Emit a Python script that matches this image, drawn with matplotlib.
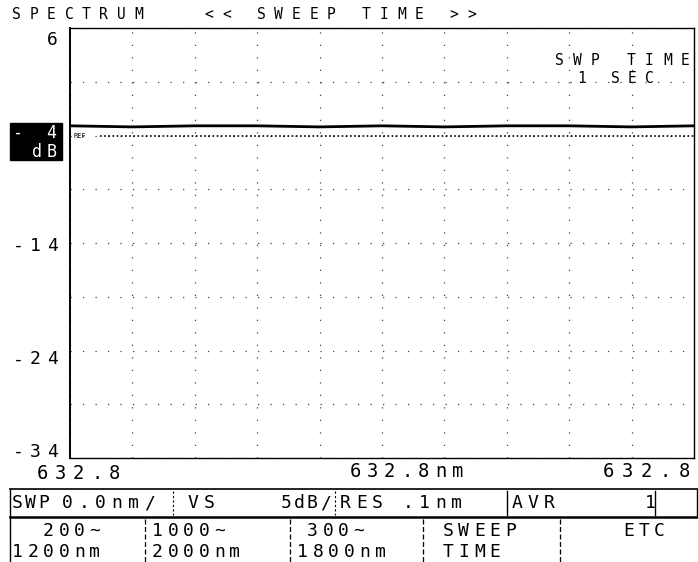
import numpy as np
import matplotlib.pyplot as plt
from matplotlib.patches import Rectangle

W, H = 698, 562
MONO = 'DejaVu Sans Mono'

# readout values (optical spectrum analyser, zero span, sweep-time screen)
title_text = 'SPECTRUM   << SWEEP TIME >>'
y_grid_db = [6, 1, -4, -9, -14, -19, -24, -29, -34]
y_labels = [6, -14, -24, -34]
ref_db = -4
x_div = [0, 1, 2, 3, 4, 5, 6, 7, 8, 9, 10]
trace_db = [-3.1, -3.2, -3.1, -3.1, -3.2, -3.1, -3.2, -3.1, -3.1, -3.2, -3.1]
wl_left, wl_center, wl_right = '632.8', '632.8nm', '632.8'
swp_time = ['SWP TIME', '1 SEC']
info_words = ['SWP', '0.0nm/', 'VS', '5dB/', 'RES', '.1nm', 'AVR', '1']
soft_top = ['200~', '1000~', '300~', 'SWEEP', 'ETC']
soft_bottom = ['1200nm', '2000nm', '1800nm', 'TIME', '']

fig = plt.figure(figsize=(W / 100, H / 100), dpi=100)
fig.patch.set_facecolor('white')

# full-figure overlay in pixel units for the printed text and frames
bg = fig.add_axes([0, 0, 1, 1])
bg.set_xlim(0, W)
bg.set_ylim(H, 0)
bg.axis('off')


def mono(x, y, s, pitch=17, size=13, color='k'):
    # dot-matrix style: fixed character pitch, y is the baseline in pixels
    for i, ch in enumerate(s):
        if ch != ' ':
            bg.text(x + i * pitch, y, ch, fontsize=size, family=MONO,
                    ha='left', va='baseline', color=color)


# chart area
left, right, top, bottom = 70, 694, 28, 458
ax = fig.add_axes([left / W, 1 - bottom / H, (right - left) / W, (bottom - top) / H])
ax.set_facecolor('none')
ax.set_xlim(x_div[0], x_div[-1])
ax.set_ylim(y_grid_db[-1], y_grid_db[0])
ax.set_xticks(x_div)
ax.set_yticks(y_grid_db)
ax.tick_params(length=0, labelleft=False, labelbottom=False)
ax.grid(True, color='#444444', linestyle=(0, (1, 9)), linewidth=0.9)
for sp in ax.spines.values():
    sp.set_linewidth(1.0)
    sp.set_color('k')
ax.spines['left'].set_linestyle((0, (3, 1)))
ax.spines['left'].set_linewidth(1.4)

ax.plot(x_div, trace_db, color='k', linewidth=2.0)
ax.axhline(ref_db, xmin=0.048, color='k', linestyle=(0, (1, 1.5)), linewidth=1.2)
ax.text(0.005, ref_db, 'REF', transform=ax.get_yaxis_transform(),
        fontsize=5, family=MONO, va='center', ha='left')

# y labels, spaced like the printer font and right-aligned to the frame
fig.canvas.draw()
label_dy = {6: 17, -14: 8, -24: 14, -34: -1}
for v in y_labels:
    py = H - ax.transData.transform((0, v))[1]
    s = str(v)
    mono(56 - 17 * (len(s) - 1) - 9, py + label_dy[v], s, pitch=17, size=13)

# inverse-video reference level box
bg.add_patch(Rectangle((10, 123), 52, 37, color='k'))
mono(12, 138, '-4', pitch=34, size=12, color='white')
mono(32, 157, 'dB', pitch=15, size=12, color='white')

# title and sweep-time readout
mono(12, 19, title_text, pitch=17.5, size=10.5)
mono(555, 65, swp_time[0], pitch=18, size=10.5)
mono(577, 83, swp_time[1], pitch=17, size=10.5)

# wavelength labels under the chart
mono(37, 479, wl_left, pitch=18, size=13.5)
mono(350, 477, wl_center, pitch=17, size=13.5)
mono(603, 477, wl_right, pitch=19, size=13.5)

# status row
info_x = [12, 62, 188, 281, 340, 403, 512, 645]
info_pitch = [13, 16.5, 16, 13, 16, 16, 16, 16]
for x, w, p in zip(info_x, info_words, info_pitch):
    mono(x, 508, w, pitch=p, size=13)
bg.plot([10, 697], [489, 489], color='k', lw=1.2)
bg.plot([10, 697], [517, 517], color='k', lw=1.8)
bg.plot([10, 10], [489, 562], color='k', lw=1.0)
bg.plot([697, 697], [489, 517], color='k', lw=1.0)
for x in [173, 335]:
    bg.plot([x, x], [491, 515], color='k', lw=0.8, linestyle=(0, (2, 2)))
for x in [507, 655]:
    bg.plot([x, x], [491, 515], color='k', lw=1.0)

# soft-key row
soft_x_top = [43, 152, 307, 443, 623]
soft_x_bot = [12, 152, 297, 443, 623]
for x, w in zip(soft_x_top, soft_top):
    mono(x, 536, w, pitch=15.5, size=13)
for x, w in zip(soft_x_bot, soft_bottom):
    mono(x, 557, w, pitch=15.5, size=13)
for x in [145, 290, 423, 560]:
    bg.plot([x, x], [519, 562], color='k', lw=0.9, linestyle=(0, (4, 2)))

fig.savefig('out.png', dpi=100)
